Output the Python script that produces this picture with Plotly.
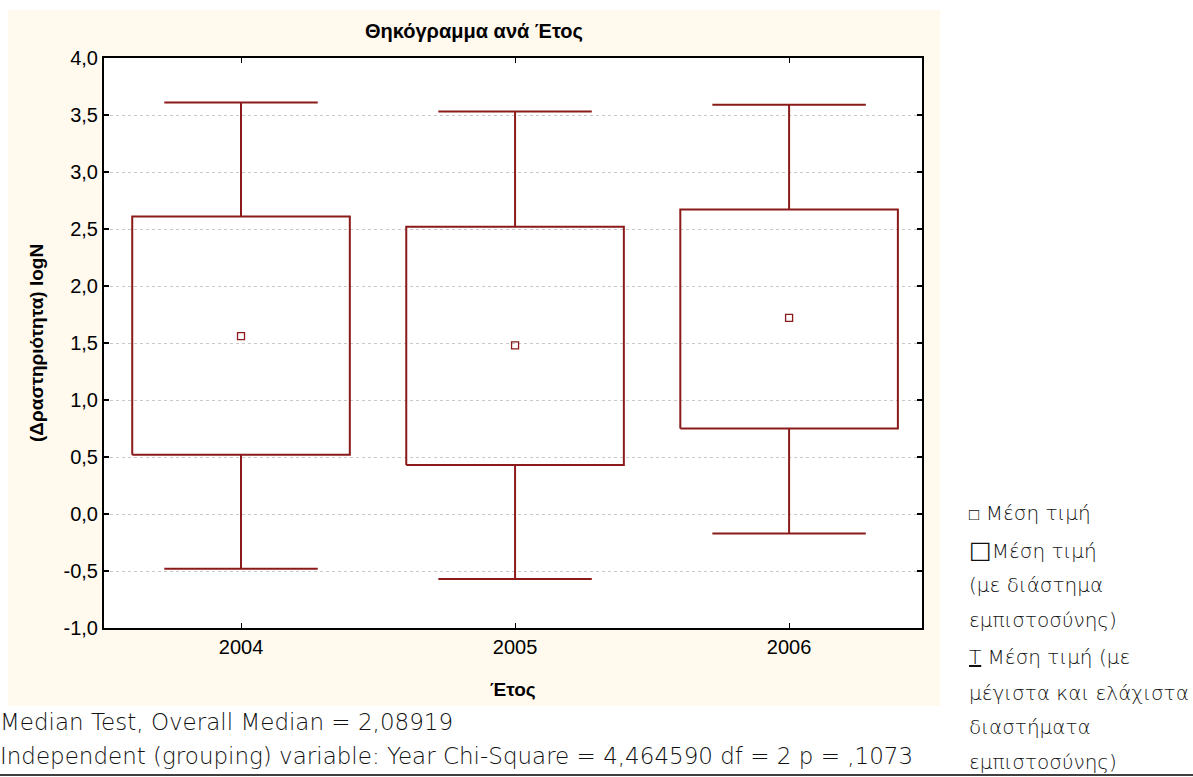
import plotly.graph_objects as go

# ---- data ----
years = [2004, 2005, 2006]
whisker_low = [-0.48, -0.57, -0.17]
box_low = [0.52, 0.43, 0.75]
means = [1.56, 1.48, 1.72]
box_high = [2.61, 2.52, 2.67]
whisker_high = [3.61, 3.53, 3.59]
ytick_vals = [-1.0, -0.5, 0.0, 0.5, 1.0, 1.5, 2.0, 2.5, 3.0, 3.5, 4.0]
ytick_text = ["-1,0", "-0,5", "0,0", "0,5", "1,0", "1,5", "2,0", "2,5", "3,0", "3,5", "4,0"]
xtick_text = ["2004", "2005", "2006"]

title_text = "Θηκόγραμμα ανά Έτος"
x_title = "Έτος"
y_title = "(Δραστηριότητα) logN"
footer1 = "Median Test, Overall Median = 2,08919"
footer2 = "Independent (grouping) variable: Year Chi-Square = 4,464590 df = 2 p = ,1073"
legend_lines = [
    "<span style='font-size:17px'>□</span> Μέση τιμή",
    "<span style='font-family:DejaVu Sans;font-weight:bold;font-size:24px'>□</span>Μέση τιμή",
    "(με διάστημα",
    "εμπιστοσύνης)",
    "<u>T</u> Μέση τιμή (με",
    "μέγιστα και ελάχιστα",
    "διαστήματα",
    "εμπιστοσύνης)",
]
legend_y_px = [513, 550, 585, 620, 657, 693, 727, 762]

# ---- style ----
W, H = 1193, 777
L, R, T, B = 104, 922, 58, 628
RED = "#8B1A1A"
BOX_HW = 0.397
CAP_HW = 0.28
AX_FONT = "Liberation Sans, Arial, sans-serif"
TXT_FONT = "DejaVu Sans ExtraLight, DejaVu Sans, sans-serif"


def px_x(p):
    return (p - L) / (R - L)


def px_y(p):
    return (B - p) / (B - T)


fig = go.Figure()

# boxes
bx, by = [], []
for yr, lo, hi in zip(years, box_low, box_high):
    bx += [yr - BOX_HW, yr + BOX_HW, yr + BOX_HW, yr - BOX_HW, yr - BOX_HW, None]
    by += [lo, lo, hi, hi, lo, None]
fig.add_trace(go.Scatter(x=bx, y=by, mode="lines", line=dict(color=RED, width=2),
                         hoverinfo="skip", showlegend=False))

# whiskers
wx, wy = [], []
for yr, wl, lo, hi, wh in zip(years, whisker_low, box_low, box_high, whisker_high):
    wx += [yr, yr, None, yr - CAP_HW, yr + CAP_HW, None]
    wy += [hi, wh, None, wh, wh, None]
    wx += [yr, yr, None, yr - CAP_HW, yr + CAP_HW, None]
    wy += [lo, wl, None, wl, wl, None]
fig.add_trace(go.Scatter(x=wx, y=wy, mode="lines", line=dict(color=RED, width=2),
                         hoverinfo="skip", showlegend=False))

# means
fig.add_trace(go.Scatter(x=years, y=means, mode="markers",
                         marker=dict(symbol="square-open", size=7, color=RED, line=dict(width=1.3)),
                         showlegend=False))

shapes = [
    dict(type="rect", xref="paper", yref="paper", layer="below",
         x0=px_x(8), x1=px_x(940), y0=px_y(706), y1=px_y(10),
         fillcolor="#FFF9EE", line=dict(width=0)),
    dict(type="rect", xref="paper", yref="paper", layer="below",
         x0=0, x1=1, y0=0, y1=1, fillcolor="white", line=dict(width=0)),
    dict(type="line", xref="paper", yref="paper",
         x0=px_x(0), x1=px_x(1193), y0=px_y(775), y1=px_y(775),
         line=dict(color="black", width=1.5)),
]

annotations = [
    dict(text="<b>" + title_text + "</b>", x=px_x(474), y=px_y(31), xref="paper", yref="paper",
         showarrow=False, xanchor="center", yanchor="middle",
         font=dict(family=AX_FONT, size=20, color="black")),
    dict(text="<b>" + x_title + "</b>", x=px_x(513), y=px_y(690), xref="paper", yref="paper",
         showarrow=False, xanchor="center", yanchor="middle",
         font=dict(family=AX_FONT, size=19, color="black")),
    dict(text="<b>" + y_title + "</b>", x=px_x(36), y=0.5, xref="paper", yref="paper",
         showarrow=False, xanchor="center", yanchor="middle", textangle=-90,
         font=dict(family=AX_FONT, size=19, color="black")),
    dict(text=footer1, x=px_x(-2), y=px_y(722), xref="paper", yref="paper",
         showarrow=False, xanchor="left", yanchor="middle",
         font=dict(family=TXT_FONT, size=23, color="#111", weight=200)),
    dict(text=footer2, x=px_x(-2), y=px_y(756), xref="paper", yref="paper",
         showarrow=False, xanchor="left", yanchor="middle",
         font=dict(family=TXT_FONT, size=23, color="#111", weight=200)),
]
for txt, ypx in zip(legend_lines, legend_y_px):
    annotations.append(dict(text=txt, x=px_x(967), y=px_y(ypx), xref="paper", yref="paper",
                            showarrow=False, xanchor="left", yanchor="middle",
                            font=dict(family=TXT_FONT, size=20, color="#111", weight=200)))

fig.update_layout(
    width=W, height=H,
    margin=dict(l=L, r=W - R, t=T, b=H - B, pad=0),
    paper_bgcolor="white", plot_bgcolor="white",
    shapes=shapes, annotations=annotations,
    showlegend=False,
)
fig.update_xaxes(range=[2003.5, 2006.485], tickvals=years, ticktext=xtick_text,
                 showgrid=False, zeroline=False, showline=True, linecolor="black", linewidth=2,
                 mirror="ticks", ticks="inside", ticklen=5, tickcolor="black", tickwidth=1,
                 tickfont=dict(family=AX_FONT, size=20, color="black"))
fig.update_yaxes(range=[-1.0, 4.0], tickvals=ytick_vals, ticktext=ytick_text,
                 showgrid=True, gridcolor="#C8C8C8", griddash="dot", gridwidth=1,
                 zeroline=False, showline=True, linecolor="black", linewidth=2,
                 mirror="ticks", ticks="inside", ticklen=5, tickcolor="black", tickwidth=2,
                 tickfont=dict(family=AX_FONT, size=20, color="black"))

fig.write_html("out.html", config={"displayModeBar": False},
               post_script="document.body.style.margin='0px';")
